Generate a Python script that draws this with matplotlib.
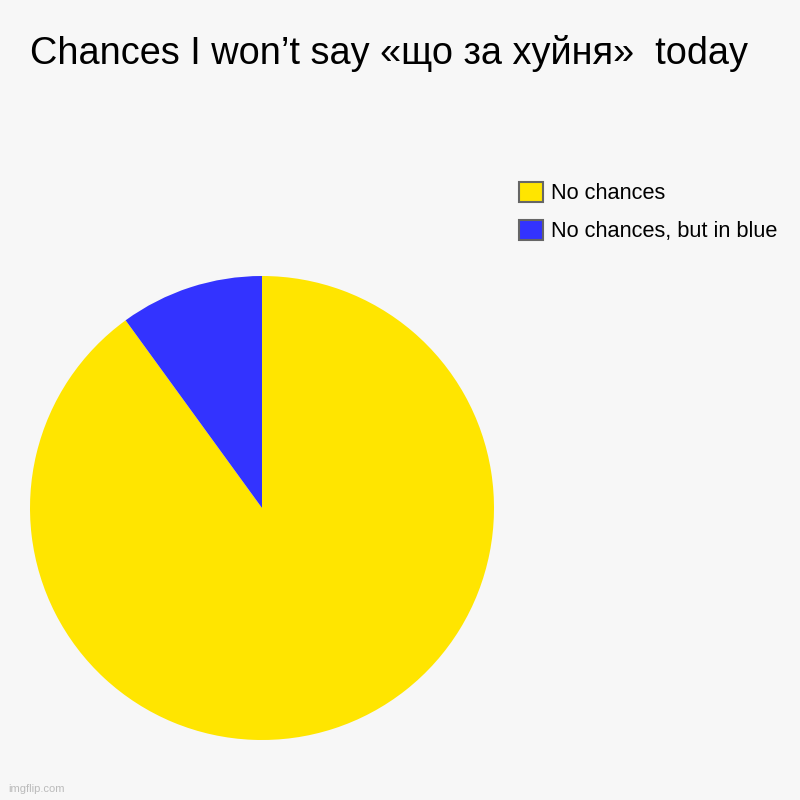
import matplotlib.pyplot as plt
from matplotlib.patches import Patch

# Data
labels = ["No chances", "No chances, but in blue"]
values = [90, 10]
colors = ["#ffe500", "#3333ff"]
title = "Chances I won\u2019t say «що за хуйня»  today"

plt.rcParams['font.family'] = ['Liberation Sans', 'DejaVu Sans']

bg = "#f7f7f7"
fig = plt.figure(figsize=(8, 8), dpi=100, facecolor=bg)

# pie occupies a square region on the left
ax = fig.add_axes([30 / 800, 60 / 800, 464 / 800, 464 / 800])
ax.set_facecolor(bg)
ax.pie(values, colors=colors, startangle=90, counterclock=False,
       radius=1, wedgeprops=dict(linewidth=0))
ax.set_xlim(-1, 1)
ax.set_ylim(-1, 1)
ax.set_aspect('equal')
ax.axis('off')

fig.text(30 / 800, 1 - 64 / 800, title, fontsize=27.3, color="#000000",
         ha='left', va='baseline')

handles = [Patch(facecolor=c, edgecolor="#666666", linewidth=1.5) for c in colors]
fig.legend(handles, labels, loc='upper left',
           bbox_to_anchor=(499 / 800, 1 - 162 / 800),
           frameon=False, fontsize=15.7, handlelength=1.1, handleheight=1.05,
           handletextpad=0.37, labelspacing=0.72)

fig.text(8 / 800, 1 - 792 / 800, "imgflip.com", fontsize=8, color="#bbbbbb",
         ha='left', va='baseline')

plt.savefig("out.png", dpi=100, facecolor=bg)
